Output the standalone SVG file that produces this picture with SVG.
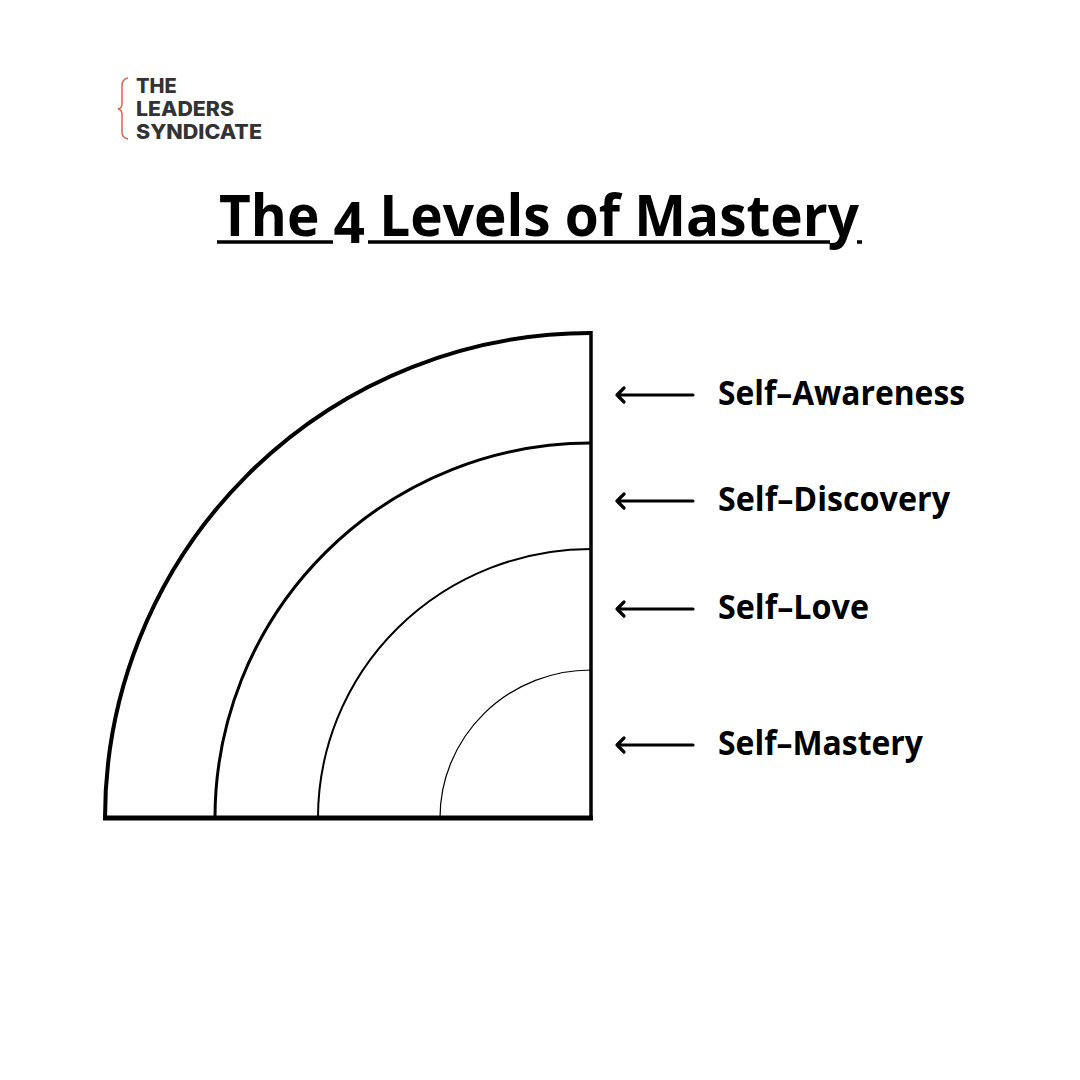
<svg xmlns="http://www.w3.org/2000/svg" width="1080" height="1080" viewBox="0 0 1080 1080">
<style>
.lbl{font-family:"Open Sans","Noto Sans",sans-serif;font-weight:700;font-size:34px;fill:#000}
.logo{font-family:"Inter","Liberation Sans",sans-serif;font-weight:800;font-size:20px;fill:#333}
.arr{stroke:#000;stroke-width:3.2;fill:none;stroke-linecap:round;stroke-linejoin:round}
.ul{stroke:#000;stroke-width:3.5}
</style>
<rect width="1080" height="1080" fill="#fff"/>
<g id="logo">
<path d="M128 78 Q122 79 122 86 L122 104 Q122 108 118 109 Q122 110 122 114 L122 132 Q122 138 128 139" fill="none" stroke="#d9654e" stroke-width="1.5"/>
<text class="logo" x="136" y="93">THE</text>
<text class="logo" x="136" y="116" textLength="98" lengthAdjust="spacingAndGlyphs">LEADERS</text>
<text class="logo" x="136" y="139" textLength="126" lengthAdjust="spacingAndGlyphs">SYNDICATE</text>
</g>
<g id="title">
<text x="219" y="236" font-family="'Open Sans','Noto Sans',sans-serif" font-weight="700" font-size="58" textLength="640" lengthAdjust="spacingAndGlyphs">The <tspan dy="7">4</tspan><tspan dy="-7"> Levels of Mastery</tspan></text>
<line class="ul" x1="217" y1="242" x2="333" y2="242"/>
<line class="ul" x1="368" y1="242" x2="830" y2="242"/>
<line class="ul" x1="857" y1="242" x2="862" y2="242"/>
</g>
<g id="levels" fill="none" stroke="#000">
<path id="level-awareness" d="M105 818 A486 485 0 0 1 591 333" stroke-width="4"/>
<path id="level-discovery" d="M215 818 A376 375 0 0 1 591 443" stroke-width="3"/>
<path id="level-love" d="M318 818 A273 269 0 0 1 591 549" stroke-width="2"/>
<path id="level-mastery" d="M440 818 A151 148 0 0 1 591 670" stroke-width="1.2"/>
<line x1="591" y1="331" x2="591" y2="820" stroke-width="3.5"/>
<line x1="103" y1="818" x2="593" y2="818" stroke-width="5"/>
</g>
<g id="connectors">
<path class="arr" d="M693 395 H617 M624 388 L617 395 L624 402"/>
<path class="arr" d="M693 501 H617 M624 494 L617 501 L624 508"/>
<path class="arr" d="M693 609 H617 M624 602 L617 609 L624 616"/>
<path class="arr" d="M693 745 H617 M624 738 L617 745 L624 752"/>
</g>
<g id="labels">
<text class="lbl" x="718" y="405" textLength="247" lengthAdjust="spacingAndGlyphs">Self–Awareness</text>
<text class="lbl" x="718" y="511" textLength="232" lengthAdjust="spacingAndGlyphs">Self–Discovery</text>
<text class="lbl" x="718" y="619" textLength="151" lengthAdjust="spacingAndGlyphs">Self–Love</text>
<text class="lbl" x="718" y="755" textLength="205" lengthAdjust="spacingAndGlyphs">Self–Mastery</text>
</g>
</svg>
